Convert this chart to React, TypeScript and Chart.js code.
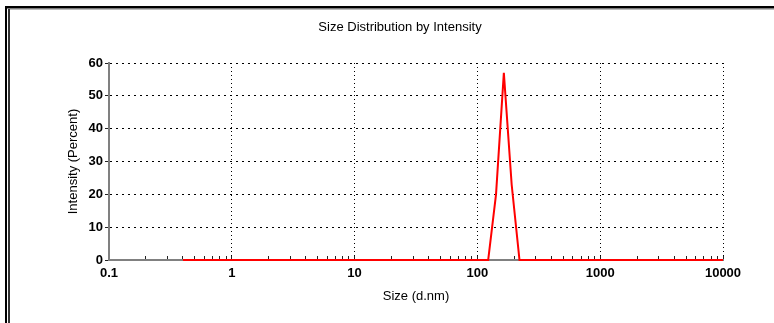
import React, { useEffect, useRef } from 'react';
import { Chart, registerables } from 'chart.js';

Chart.register(...registerables);

// Size bins (d.nm)
const sizes = [
  0.4, 0.4632, 0.5365, 0.6213, 0.7195, 0.8332, 0.9649, 1.117, 1.294, 1.499,
  1.736, 2.01, 2.328, 2.696, 3.122, 3.615, 4.187, 4.849, 5.615, 6.503,
  7.531, 8.721, 10.1, 11.7, 13.54, 15.69, 18.17, 21.04, 24.36, 28.21,
  32.67, 37.84, 43.82, 50.75, 58.77, 68.06, 78.82, 91.28, 105.7, 122.4,
  141.8, 164.2, 190.1, 220.2, 255, 295.3, 342, 396.1, 458.7, 531.2,
  615.1, 712.4, 825, 955.4, 1106, 1281, 1484, 1718, 1990, 2305,
  2669, 3091, 3580, 4145, 4801, 5560, 6439, 7456, 8635, 10000,
];

// Intensity (Percent)
const intensity = [
  0, 0, 0, 0, 0, 0, 0, 0, 0, 0,
  0, 0, 0, 0, 0, 0, 0, 0, 0, 0,
  0, 0, 0, 0, 0, 0, 0, 0, 0, 0,
  0, 0, 0, 0, 0, 0, 0, 0, 0, 0,
  20, 57, 23, 0, 0, 0, 0, 0, 0, 0,
  0, 0, 0, 0, 0, 0, 0, 0, 0, 0,
  0, 0, 0, 0, 0, 0, 0, 0, 0, 0,
];

const xMajorTicks = [0.1, 1, 10, 100, 1000, 10000];
const xMinorMultipliers = [2, 3, 4, 5, 6, 7, 8, 9];
const yMin = 0;
const yMax = 60;
const yStep = 5;
const yLabelStep = 10;

const chartTitle = 'Size Distribution by Intensity';
const xTitle = 'Size (d.nm)';
const yTitle = 'Intensity (Percent)';

const FONT = "'Liberation Sans', Arial, sans-serif";

const xTickValues: number[] = [];
xMajorTicks.forEach((m, i) => {
  xTickValues.push(m);
  if (i < xMajorTicks.length - 1) xMinorMultipliers.forEach((k) => xTickValues.push(+(m * k).toPrecision(6)));
});

const isMajorX = (v: number) => xMajorTicks.some((m) => Math.abs(m - v) / m < 1e-6);

const framePlugin = {
  id: 'frameAndTitle',
  beforeDraw(chart: any) {
    const ctx = chart.ctx;
    const w = chart.width;
    const h = chart.height;
    ctx.save();
    ctx.fillStyle = '#ffffff';
    ctx.fillRect(0, 0, w, h);
    ctx.fillStyle = '#000000';
    ctx.fillRect(5, 6, w - 5, 2.5);
    ctx.fillRect(5, 6, 2, h - 6);
    ctx.fillStyle = '#7a7a7a';
    ctx.fillRect(8, 8.5, w - 8, 1);
    ctx.fillStyle = '#333333';
    ctx.fillRect(8, 9, 2, h - 9);
    ctx.restore();
  },
  afterDraw(chart: any) {
    const ctx = chart.ctx;
    ctx.save();
    ctx.font = `13px ${FONT}`;
    ctx.fillStyle = '#000';
    ctx.textAlign = 'center';
    ctx.textBaseline = 'middle';
    ctx.fillText(chartTitle, 400, 27);
    ctx.restore();
  },
};

export default function App() {
  const canvasRef = useRef<HTMLCanvasElement | null>(null);

  useEffect(() => {
    if (!canvasRef.current) return;
    const data = sizes.map((s, i) => ({ x: s, y: intensity[i] }));
    const chart = new Chart(canvasRef.current, {
      type: 'line',
      data: {
        datasets: [
          {
            data,
            borderColor: '#ff0000',
            borderWidth: 2,
            pointRadius: 0,
            tension: 0,
            fill: false,
            clip: false as any,
          },
        ],
      },
      plugins: [framePlugin],
      options: {
        animation: false,
        responsive: true,
        maintainAspectRatio: false,
        layout: { padding: { left: 0, right: 51, top: 63, bottom: 0 } },
        plugins: { legend: { display: false }, title: { display: false }, tooltip: { enabled: false } },
        scales: {
          x: {
            type: 'logarithmic',
            min: 0.1,
            max: 10000,
            afterBuildTicks: (scale: any) => {
              scale.ticks = xTickValues.map((v) => ({ value: v }));
            },
            afterFit: (scale: any) => {
              scale.height = 63;
            },
            ticks: {
              autoSkip: false,
              maxRotation: 0,
              padding: 10,
              color: '#000',
              font: { family: FONT, size: 13, weight: 'bold' },
              callback: (v: any) => (isMajorX(Number(v)) ? String(Number(v)) : ''),
            },
            grid: {
              color: (ctx: any) => {
                const v = ctx.tick ? ctx.tick.value : 0;
                return isMajorX(v) && v !== 0.1 ? '#000' : 'rgba(0,0,0,0)';
              },
              lineWidth: 1,
              tickLength: -4,
              tickColor: '#222',
              tickWidth: 1,
            },
            border: { display: true, color: '#808080', width: 2, dash: [1, 3] },
            title: {
              display: true,
              text: xTitle,
              color: '#000',
              font: { family: FONT, size: 13 },
              padding: { top: 0, bottom: 19 },
            },
          },
          y: {
            type: 'linear',
            min: yMin,
            max: yMax,
            afterFit: (scale: any) => {
              scale.width = 109;
            },
            ticks: {
              stepSize: yStep,
              padding: 2,
              color: '#000',
              font: { family: FONT, size: 13, weight: 'bold' },
              callback: (v: any) => (Number(v) % yLabelStep === 0 ? String(v) : ''),
            },
            grid: {
              color: (ctx: any) => {
                const v = ctx.tick ? ctx.tick.value : 0;
                return v % yLabelStep === 0 && v !== 0 ? '#000' : 'rgba(0,0,0,0)';
              },
              lineWidth: 1,
              tickLength: 4,
              tickColor: '#222',
              tickWidth: 1,
            },
            border: { display: true, color: '#808080', width: 2, dash: [2, 4] },
            title: {
              display: true,
              text: yTitle,
              color: '#000',
              font: { family: FONT, size: 13 },
              padding: { top: 66, bottom: 0 },
            },
          },
        },
      } as any,
    });
    return () => chart.destroy();
  }, []);

  return (
    <div style={{ position: 'absolute', left: 0, top: 0, width: 774, height: 323 }}>
      <canvas ref={canvasRef} />
    </div>
  );
}
